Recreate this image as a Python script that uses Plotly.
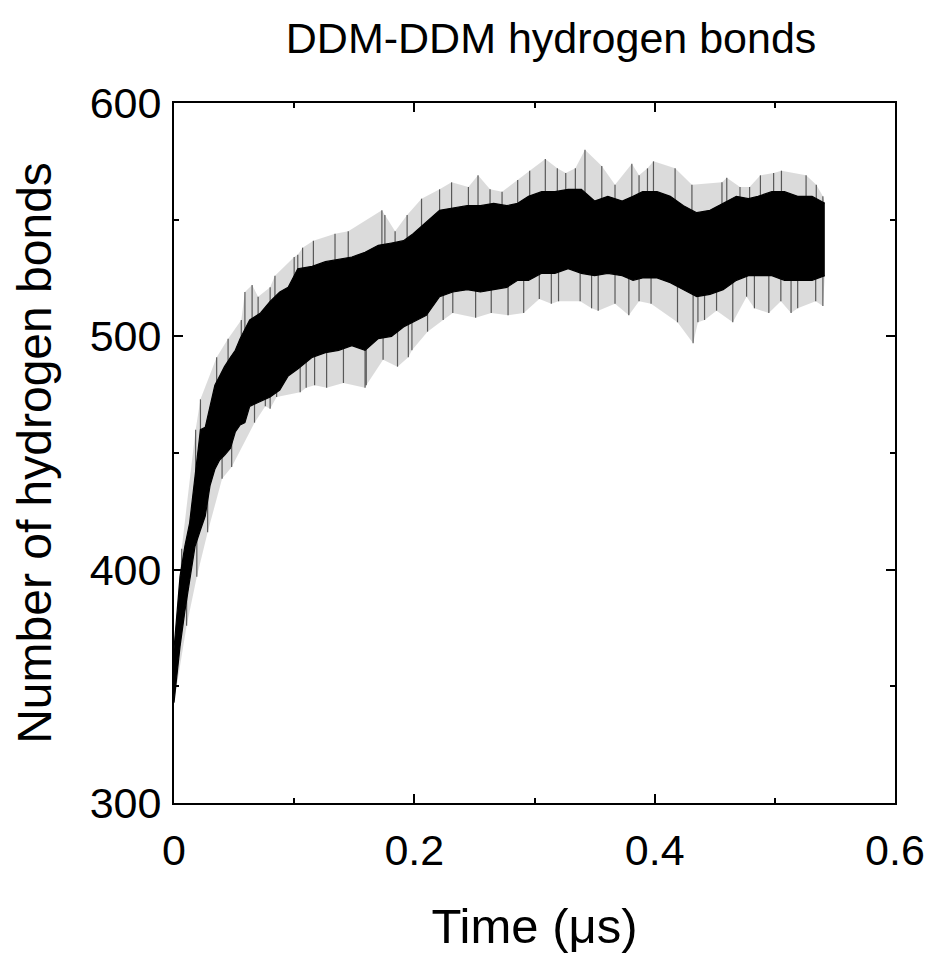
import numpy as np
import plotly.graph_objects as go

# ---- data (time in microseconds, number of H-bonds) ----
# dense core of the trace (lower / upper edge of the solid black band)
core_t = [0.000, 0.005, 0.009, 0.013, 0.0175, 0.022, 0.026, 0.030, 0.034, 0.038,
          0.042, 0.047, 0.051, 0.055, 0.059, 0.063, 0.072, 0.080, 0.088, 0.095,
          0.103, 0.115, 0.126, 0.137, 0.148, 0.159, 0.170, 0.181, 0.191, 0.199,
          0.210, 0.221, 0.232, 0.244, 0.255, 0.266, 0.277, 0.286, 0.295, 0.306,
          0.317, 0.328, 0.339, 0.350, 0.361, 0.373, 0.382, 0.390, 0.402, 0.413,
          0.424, 0.435, 0.446, 0.457, 0.468, 0.478, 0.486, 0.4975, 0.508, 0.519,
          0.531, 0.5416]
core_high = [366, 397, 410, 420, 440, 460, 461, 470, 479, 483,
             487, 491, 494, 499, 503, 507, 510, 515, 519, 521,
             529, 530, 532, 533, 534, 536, 539, 540, 541, 544,
             549, 554, 555, 556, 556, 557, 556, 557, 560, 562,
             562, 563, 563, 558, 560, 558, 560, 562, 562, 560,
             556, 553, 554, 557, 560, 559, 560, 562, 562, 560,
             560, 557]
core_low = [343, 367, 382, 396, 410, 417, 423, 436, 443, 447,
            449, 452, 459, 462, 463, 470, 472, 474, 477, 483,
            486, 491, 493, 494, 496, 494, 499, 500, 504, 506,
            509, 517, 519, 520, 519, 520, 521, 524, 524, 527,
            527, 529, 527, 526, 527, 526, 524, 525, 525, 523,
            520, 517, 518, 520, 524, 526, 526, 526, 524, 524,
            524, 526]

# tips of the isolated upward spikes
spike_up_t = [0.0064, 0.018, 0.022, 0.0355, 0.045, 0.056, 0.059, 0.065, 0.070, 0.080,
              0.084, 0.100, 0.103, 0.107, 0.116, 0.134, 0.145, 0.173, 0.1755, 0.184,
              0.194, 0.206, 0.221, 0.231, 0.245, 0.253, 0.263, 0.273, 0.286, 0.296,
              0.309, 0.319, 0.326, 0.334, 0.342, 0.356, 0.367, 0.381, 0.387, 0.394,
              0.399, 0.417, 0.431, 0.456, 0.460, 0.471, 0.479, 0.488, 0.499, 0.5055,
              0.526, 0.5345, 0.540]
spike_up_v = [409, 460, 473, 491, 499, 507, 519, 522, 517, 521,
              526, 534, 535, 538, 541, 544, 545, 554, 552, 545,
              552, 559, 563, 566, 564, 569, 563, 562, 567, 571,
              576, 572, 570, 572, 580, 573, 565, 574, 569, 572,
              575, 572, 565, 566, 568, 564, 564, 569, 570, 571,
              569, 565, 560]

# tips of the isolated downward spikes
spike_dn_t = [0.0105, 0.019, 0.028, 0.040, 0.048, 0.067, 0.076, 0.080, 0.0854, 0.105,
              0.110, 0.117, 0.127, 0.141, 0.159, 0.160, 0.174, 0.186, 0.195, 0.198,
              0.211, 0.224, 0.232, 0.251, 0.264, 0.278, 0.291, 0.304, 0.314, 0.320,
              0.338, 0.3475, 0.353, 0.367, 0.3785, 0.387, 0.397, 0.419, 0.432, 0.436,
              0.4415, 0.4515, 0.465, 0.4765, 0.483, 0.495, 0.505, 0.5135, 0.519, 0.534,
              0.540]
spike_dn_v = [376, 397, 416, 439, 444, 463, 470, 469, 474, 476,
              478, 479, 478, 480, 478, 479, 490, 487, 491, 494,
              502, 507, 510, 508, 510, 509, 510, 516, 514, 515,
              515, 512, 511, 514, 509, 515, 514, 506, 497, 506,
              507, 511, 506, 517, 512, 510, 515, 510, 512, 515,
              513]

x_ticks = [0, 0.2, 0.4, 0.6]
x_tick_text = ["0", "0.2", "0.4", "0.6"]
y_ticks = [300, 400, 500, 600]
y_tick_text = ["300", "400", "500", "600"]

# ---- build spikes as vertical segments from band middle to the tip ----
core_mid = (np.array(core_high) + np.array(core_low)) / 2.0
sx, sy = [], []
for t, v in list(zip(spike_up_t, spike_up_v)) + list(zip(spike_dn_t, spike_dn_v)):
    base = float(np.interp(t, core_t, core_mid))
    sx += [t, t, None]
    sy += [base, v, None]

FONT = "Liberation Sans, Arial, Helvetica, sans-serif"

fig = go.Figure()
# faint haze of the sparse spikes above / below the dense core
fig.add_trace(go.Scatter(x=list(core_t) + spike_up_t[::-1],
                         y=list(core_high) + spike_up_v[::-1],
                         mode="lines", line=dict(width=0), fill="toself",
                         fillcolor="rgba(0,0,0,0.14)", hoverinfo="skip", showlegend=False))
fig.add_trace(go.Scatter(x=list(core_t) + spike_dn_t[::-1],
                         y=list(core_low) + spike_dn_v[::-1],
                         mode="lines", line=dict(width=0), fill="toself",
                         fillcolor="rgba(0,0,0,0.14)", hoverinfo="skip", showlegend=False))
fig.add_trace(go.Scatter(x=sx, y=sy, mode="lines",
                         line=dict(color="rgba(0,0,0,0.6)", width=1.2),
                         hoverinfo="skip", showlegend=False))
fig.add_trace(go.Scatter(x=core_t, y=core_low, mode="lines",
                         line=dict(color="black", width=1.2),
                         showlegend=False))
fig.add_trace(go.Scatter(x=core_t, y=core_high, mode="lines",
                         line=dict(color="black", width=1.2),
                         fill="tonexty", fillcolor="black",
                         showlegend=False))

axis_common = dict(showline=True, linecolor="black", linewidth=2, mirror="ticks",
                   ticks="inside", ticklen=9, tickwidth=2, tickcolor="black",
                   showgrid=False, zeroline=False, automargin=False,
                   tickfont=dict(family=FONT, size=43, color="black"))

fig.update_xaxes(range=[0, 0.6], tickvals=x_ticks, ticktext=x_tick_text,
                 minor=dict(ticks="inside", ticklen=5, tickwidth=2, tickcolor="black",
                            dtick=0.1, tick0=0, showgrid=False),
                 ticklabelstandoff=8,
                 title=dict(text="Time (μs)", font=dict(family=FONT, size=49, color="black"),
                            standoff=36),
                 **axis_common)
fig.update_yaxes(range=[300, 600], tickvals=y_ticks, ticktext=y_tick_text,
                 minor=dict(ticks="inside", ticklen=5, tickwidth=2, tickcolor="black",
                            dtick=50, tick0=300, showgrid=False),
                 ticklabelstandoff=2,
                 title=dict(text="Number of hydrogen bonds",
                            font=dict(family=FONT, size=48, color="black"), standoff=24),
                 **axis_common)

# the page body adds an 8 px offset, so the figure is 8 px smaller and shifted
fig.update_layout(
    width=924, height=951,
    margin=dict(l=166, r=37, t=95, b=156),
    paper_bgcolor="white", plot_bgcolor="white",
    title=dict(text="DDM-DDM hydrogen bonds", x=0.523, xref="paper", xanchor="center",
               y=0.9685, yref="container", yanchor="middle",
               font=dict(family=FONT, size=43, color="black")),
)

fig.write_html("out.html")
